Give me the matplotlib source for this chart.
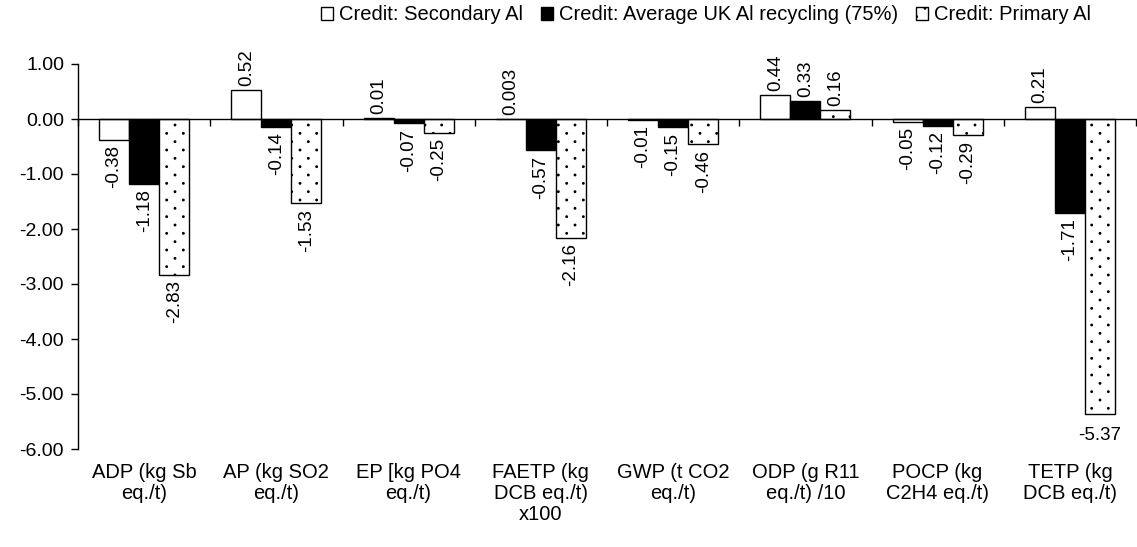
import matplotlib

matplotlib.use('Agg')

import numpy as np
import matplotlib.pyplot as plt
from matplotlib import hatch as mhatch
from matplotlib.path import Path

categories = ["ADP (kg Sb\neq./t)", "AP (kg SO2\neq./t)", "EP [kg PO4\neq./t)",
              "FAETP (kg\nDCB eq./t)\nx100", "GWP (t CO2\neq./t)", "ODP (g R11\neq./t) /10",
              "POCP (kg\nC2H4 eq./t)", "TETP (kg\nDCB eq./t)"]
secondary = [-0.38, 0.52, 0.01, 0.003, -0.01, 0.44, -0.05, 0.21]
average = [-1.18, -0.14, -0.07, -0.57, -0.15, 0.33, -0.12, -1.71]
primary = [-2.83, -1.53, -0.25, -2.16, -0.46, 0.16, -0.29, -5.37]
labels_sec = ["-0.38", "0.52", "0.01", "0.003", "-0.01", "0.44", "-0.05", "0.21"]
labels_avg = ["-1.18", "-0.14", "-0.07", "-0.57", "-0.15", "0.33", "-0.12", "-1.71"]
labels_pri = ["-2.83", "-1.53", "-0.25", "-2.16", "-0.46", "0.16", "-0.29", "-5.37"]
series_names = ["Credit: Secondary Al", "Credit: Average UK Al recycling (75%)", "Credit: Primary Al"]


# sparse staggered dot pattern (like the Excel "5%" fill) used for '.'
class DotLattice(mhatch.HatchPatternBase):
    def __init__(self, hatch, density):
        n = int(hatch.count('.') * density)
        self.pts = []
        if n:
            ny = 2 * n
            for r in range(ny + 1):
                if r % 2 == 0:
                    xs = np.arange(n + 1) / n
                else:
                    xs = (np.arange(n) + 0.5) / n
                for c in xs:
                    self.pts.append((c, r / ny))
        self.circle = Path.unit_circle()
        self.radius = 0.008
        self.num_vertices = len(self.pts) * len(self.circle.vertices)

    def set_vertices_and_codes(self, vertices, codes):
        k = len(self.circle.vertices)
        for i, (px, py) in enumerate(self.pts):
            vertices[i * k:(i + 1) * k] = self.circle.vertices * self.radius + [px, py]
            codes[i * k:(i + 1) * k] = self.circle.codes


mhatch._hatch_types = [DotLattice if t is mhatch.SmallFilledCircles else t
                       for t in mhatch._hatch_types]

plt.rcParams['font.family'] = ['Liberation Sans', 'DejaVu Sans']
plt.rcParams['axes.unicode_minus'] = False
plt.rcParams['hatch.linewidth'] = 0.9

fig = plt.figure(figsize=(11.37, 5.47), dpi=100)
ax = fig.add_axes([78 / 1137, 1 - 449 / 547, (1136 - 78) / 1137, (449 - 64) / 547])

x = np.arange(len(categories))
w = 0.227
styles = [dict(facecolor='white', hatch=None),
          dict(facecolor='black', hatch=None),
          dict(facecolor='white', hatch='.')]
all_bars = []
for i, (vals, st, name) in enumerate(zip([secondary, average, primary], styles, series_names)):
    bars = ax.bar(x + (i - 1) * w, vals, w, edgecolor='black', linewidth=1.0,
                  label=name, **st)
    all_bars.append(bars)

vfs = 13.5
for bars, labs in zip(all_bars, [labels_sec, labels_avg, labels_pri]):
    for b, lab in zip(bars, labs):
        v = b.get_height()
        cx = b.get_x() + b.get_width() / 2
        if lab == "-5.37":
            ax.annotate(lab, (cx, v), xytext=(0, -9), textcoords='offset points',
                        ha='center', va='top', fontsize=vfs, annotation_clip=False)
        elif v >= 0:
            ax.annotate(lab, (cx, v), xytext=(0, 3), textcoords='offset points',
                        ha='center', va='bottom', rotation=90, fontsize=vfs,
                        annotation_clip=False)
        else:
            ax.annotate(lab, (cx, v), xytext=(0, -4), textcoords='offset points',
                        ha='center', va='top', rotation=90, fontsize=vfs,
                        annotation_clip=False)

ax.set_xlim(-0.5, len(categories) - 0.5)
ax.set_ylim(-6, 1)
ax.set_yticks(np.arange(-6, 1.01, 1))
ax.yaxis.set_major_formatter(matplotlib.ticker.FormatStrFormatter('%.2f'))
ax.tick_params(axis='y', direction='out', length=5, width=1, labelsize=14, pad=5)

ax.spines['top'].set_visible(False)
ax.spines['right'].set_visible(False)
ax.spines['bottom'].set_position(('data', 0))
ax.spines['left'].set_linewidth(1)
ax.spines['bottom'].set_linewidth(1)

ax.set_xticks(np.arange(len(categories) + 1) - 0.5)
ax.set_xticklabels([])
ax.tick_params(axis='x', direction='out', length=5, width=1)

for xi, cat in zip(x, categories):
    ax.annotate(cat, (xi, -6), xytext=(0, -10), textcoords='offset points',
                ha='center', va='top', fontsize=14.5, linespacing=1.15,
                annotation_clip=False)

fig.legend(loc='center', bbox_to_anchor=(706 / 1137, 1 - 15 / 547), ncol=3,
           frameon=False, handlelength=0.6, handleheight=0.6, handletextpad=0.3,
           columnspacing=0.9, fontsize=14.5, borderaxespad=0)

fig.savefig('out.png', dpi=100)
